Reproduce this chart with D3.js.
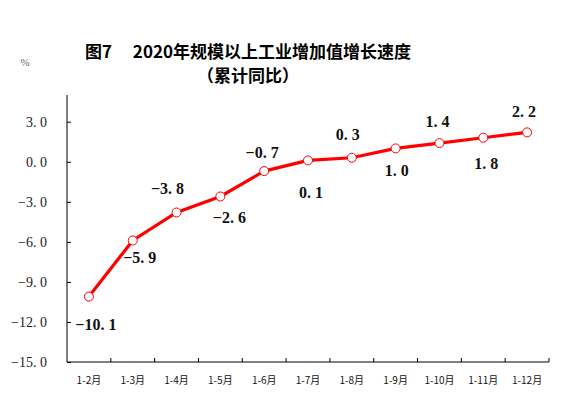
<!DOCTYPE html>
<html>
<head>
<meta charset="utf-8">
<script src="https://cdn.jsdelivr.net/npm/d3@7"></script>
<style>
  body { margin: 0; background: #fff; }
  svg { display: block; }
</style>
</head>
<body>
<div id="chart"></div>
<script>
const months = ['1-2月', '1-3月', '1-4月', '1-5月', '1-6月', '1-7月', '1-8月', '1-9月', '1-10月', '1-11月', '1-12月'];
const growth = [-10.1, -5.9, -3.8, -2.6, -0.7, 0.1, 0.3, 1.0, 1.4, 1.8, 2.2];
const yTicks = [3, 0, -3, -6, -9, -12, -15];

// label placement around each point (dx, dy to baseline)
const labelOffset = [[7, 33], [7, 22], [-9, -18], [9, 27], [-2, -13], [3, 38], [-4, -18], [1, 28], [-2, -16], [3, 31], [-3, -15]];

const width = 580;
const height = 399;
const margin = { top: 95, right: 31, bottom: 37, left: 67 };

const svg = d3.select('#chart')
  .append('svg')
  .attr('width', width)
  .attr('height', height);

const x = d3.scaleBand()
  .domain(months)
  .range([margin.left, width - margin.right]);

const y = d3.scaleLinear()
  .domain([-15, 5])
  .range([height - margin.bottom, margin.top]);

const numFont = '"Liberation Serif", "DejaVu Serif", serif';

// title
svg.append('text')
  .attr('x', 248)
  .attr('y', 58)
  .attr('text-anchor', 'middle')
  .style('font-family', '"Noto Sans CJK SC", sans-serif')
  .style('font-weight', 'bold')
  .style('font-size', '17px')
  .text('图7\u3000 2020年规模以上工业增加值增长速度');

svg.append('text')
  .attr('x', 248)
  .attr('y', 82)
  .attr('text-anchor', 'middle')
  .style('font-family', '"Noto Sans CJK SC", sans-serif')
  .style('font-weight', 'bold')
  .style('font-size', '17px')
  .text('（累计同比）');

svg.append('text')
  .attr('x', 25)
  .attr('y', 66)
  .attr('text-anchor', 'middle')
  .attr('fill', '#5a6478')
  .style('font-family', numFont)
  .style('font-size', '11px')
  .text('%');

// y axis
const yAxis = svg.append('g')
  .attr('transform', `translate(${margin.left},0)`)
  .call(d3.axisRight(y).tickValues(yTicks).tickSize(4).tickFormat(''));
yAxis.select('.domain').attr('d', `M0,${margin.top}V${height - margin.bottom}`);

svg.append('g')
  .selectAll('text')
  .data(yTicks)
  .join('text')
  .attr('x', 47)
  .attr('y', (d) => y(d) + 5)
  .attr('text-anchor', 'end')
  .attr('fill', '#222')
  .style('font-family', numFont)
  .style('font-size', '14px')
  .text((d) => d3.format('.1f')(d).replace('-', '−').replace('.', '. '));

// x axis
const bounds = months.map((m) => x(m) + x.bandwidth());
const xAxis = svg.append('g')
  .attr('transform', `translate(0,${height - margin.bottom})`);
xAxis.append('path')
  .attr('d', `M${margin.left},0H${width - margin.right}`)
  .attr('stroke', '#000');
xAxis.selectAll('line')
  .data(bounds)
  .join('line')
  .attr('x1', (d) => d)
  .attr('x2', (d) => d)
  .attr('y1', 0)
  .attr('y2', -4)
  .attr('stroke', '#000');

svg.append('g')
  .selectAll('text')
  .data(months)
  .join('text')
  .attr('x', (d) => x(d) + x.bandwidth() / 2)
  .attr('y', 384)
  .attr('text-anchor', 'middle')
  .attr('fill', '#111')
  .style('font-family', '"Noto Sans CJK SC", sans-serif')
  .style('font-size', '10px')
  .text((d) => d);

// line
const cx = (i) => x(months[i]) + x.bandwidth() / 2;
const line = d3.line()
  .x((d, i) => cx(i))
  .y((d) => y(d));

svg.append('path')
  .datum(growth)
  .attr('fill', 'none')
  .attr('stroke', '#ff0000')
  .attr('stroke-width', 3.2)
  .attr('d', line);

svg.append('g')
  .selectAll('circle')
  .data(growth)
  .join('circle')
  .attr('cx', (d, i) => cx(i))
  .attr('cy', (d) => y(d))
  .attr('r', 4.5)
  .attr('fill', '#fff')
  .attr('stroke', '#ff0000')
  .attr('stroke-width', 1);

svg.append('g')
  .selectAll('text')
  .data(growth)
  .join('text')
  .attr('x', (d, i) => cx(i) + labelOffset[i][0])
  .attr('y', (d, i) => y(d) + labelOffset[i][1])
  .attr('text-anchor', 'middle')
  .attr('fill', '#111')
  .style('font-family', numFont)
  .style('font-weight', 'bold')
  .style('font-size', '16px')
  .text((d) => d3.format('.1f')(d).replace('-', '−').replace('.', '. '));
</script>
</body>
</html>
